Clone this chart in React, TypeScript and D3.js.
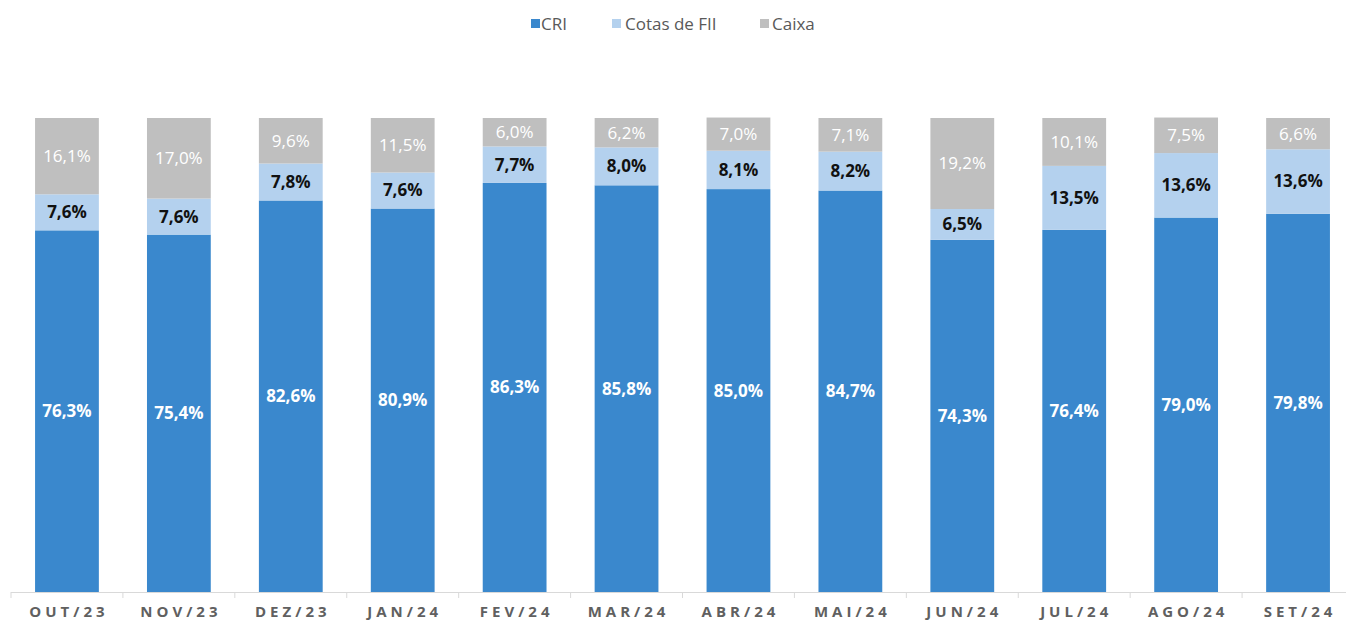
import React from "react";
import * as d3 from "d3";

const categories = ["OUT/23","NOV/23","DEZ/23","JAN/24","FEV/24","MAR/24","ABR/24","MAI/24","JUN/24","JUL/24","AGO/24","SET/24"];
const cri = [76.3,75.4,82.6,80.9,86.3,85.8,85.0,84.7,74.3,76.4,79.0,79.8];
const cotas = [7.6,7.6,7.8,7.6,7.7,8.0,8.1,8.2,6.5,13.5,13.6,13.6];
const caixa = [16.1,17.0,9.6,11.5,6.0,6.2,7.0,7.1,19.2,10.1,7.5,6.6];

const seriesNames = ["CRI","Cotas de FII","Caixa"];
const seriesColors = ["#3A88CD","#B4D1EE","#BFBFBF"];
const labelColors = ["#ffffff","#111111","#ffffff"];
const labelWeights = [700,700,500];

const W = 1346, H = 622;
const FONT = "'Open Sans', sans-serif";

const fmt = (v: number) => v.toFixed(1).replace(".", ",") + "%";

export default function App() {
  const x = d3.scaleBand<string>().domain(categories).range([11, 1354]).paddingInner(0.43).paddingOuter(0.215);
  const y = d3.scaleLinear().domain([0, 100]).range([592, 118]);
  const rows = categories.map((c, i) => ({ cat: c, CRI: cri[i], "Cotas de FII": cotas[i], Caixa: caixa[i] }));
  const stack = d3.stack<any>().keys(seriesNames)(rows);
  const step = x.step();
  const ticks = d3.range(categories.length).map(i => 11 + i * step);

  const legendItems = [
    { x: 531, tx: 541 },
    { x: 612, tx: 625 },
    { x: 760, tx: 772 },
  ];

  return (
    <svg width={W} height={H} style={{ position: "absolute", left: 0, top: 0 }}>
      <rect width={W} height={H} fill="#fff" />
      {legendItems.map((l, i) => (
        <g key={i}>
          <rect x={l.x} y={19} width={9} height={9} fill={seriesColors[i]} />
          <text x={l.tx} y={30} fontFamily={FONT} fontSize={17} fill="#595959">{seriesNames[i]}</text>
        </g>
      ))}
      {stack.map((s, si) => (
        <g key={si}>
          {s.map((d, i) => {
            const x0 = x(categories[i])!;
            const y0 = y(d[1]);
            const y1 = y(d[0]);
            return (
              <g key={i}>
                <rect x={x0} y={y0} width={x.bandwidth()} height={y1 - y0} fill={seriesColors[si]} />
                <text x={x0 + x.bandwidth() / 2} y={(y0 + y1) / 2} dy="0.35em" textAnchor="middle"
                  fontFamily={FONT} fontSize={17} fontWeight={labelWeights[si]} fill={labelColors[si]}>
                  {fmt(d[1] - d[0])}
                </text>
              </g>
            );
          })}
        </g>
      ))}
      <line x1={11} x2={1346} y1={592.5} y2={592.5} stroke="#D9D9D9" strokeWidth={1} />
      {ticks.map((t, i) => (
        <line key={i} x1={t} x2={t} y1={592} y2={598} stroke="#D9D9D9" />
      ))}
      {categories.map((c, i) => (
        <text key={c} x={x(c)! + x.bandwidth() / 2 + 2} y={617} textAnchor="middle" fontFamily={FONT}
          fontSize={15} fontWeight={700} letterSpacing={4} fill="#606060">{c}</text>
      ))}
    </svg>
  );
}
